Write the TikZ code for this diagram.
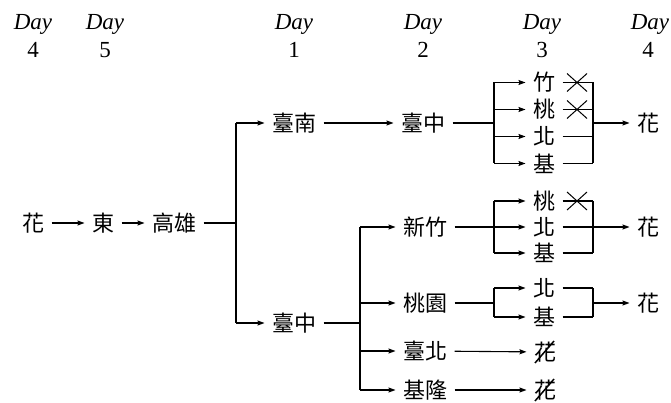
\documentclass[tikz,border=0pt]{standalone}
\usepackage{fontspec}
\setmainfont{Liberation Serif}
\newfontfamily\tnr{Liberation Serif}
\newfontfamily\cjk{Noto Sans CJK TC}
\usetikzlibrary{arrows.meta}
\tikzset{
  every path/.style={line width=1.1pt},
  ct/.style={font=\cjk\fontsize{22}{26}\selectfont, inner sep=0pt, outer xsep=7.5pt, outer ysep=0pt},
  dayl/.style={font=\tnr\fontsize{23}{28}\selectfont\itshape, inner sep=0pt, anchor=base},
  dnum/.style={font=\tnr\fontsize{23}{28}\selectfont, inner sep=0pt, anchor=base},
  arr/.style={-{Stealth[length=7pt,width=5pt,inset=1pt]}},
  xmark/.style={line width=1pt},
  strikeout/.style={draw=black, line width=1.5pt},
}
\begin{document}
\begin{tikzpicture}[x=1pt,y=-1pt]
\useasboundingbox (0,0) rectangle (671,403);
% header
\node[dayl] (d1) at (33,30) {Day};  \node[dnum] (n1) at (33,58) {4};
\node[dayl] (d2) at (105,30) {Day}; \node[dnum] (n2) at (105,58) {5};
\node[dayl] (d3) at (294,30) {Day}; \node[dnum] (n3) at (294,58) {1};
\node[dayl] (d4) at (423,30) {Day}; \node[dnum] (n4) at (423,58) {2};
\node[dayl] (d5) at (542,30) {Day}; \node[dnum] (n5) at (542,58) {3};
\node[dayl] (d6) at (650,30) {Day}; \node[dnum] (n6) at (648,58) {4};
% main row
\node[ct] (hua0) at (33,223) {花};
\node[ct] (dong) at (103,223) {東};
\node[ct] (kx) at (174,223) {高雄};
\draw[arr] (hua0) -- (dong);
\draw[arr] (dong) -- (kx);
\coordinate (j0) at (236,223);
\coordinate (j0t) at (236,123);
\coordinate (j0b) at (236,323);
\draw (kx) -- (j0);
\draw (j0t) -- (j0b);
\node[ct] (tn) at (294,123) {臺南};
\node[ct] (tz2) at (294,323) {臺中};
\draw[arr] (j0t) -- (tn);
\draw[arr] (j0b) -- (tz2);
\node[ct] (tz1) at (423,123) {臺中};
\draw[arr] (tn) -- (tz1);
% lower branch
\coordinate (j1) at (360,323);
\coordinate (j1t) at (360,227);
\coordinate (j1c) at (360,303);
\coordinate (j1d) at (360,351);
\coordinate (j1b) at (360,390);
\draw (tz2) -- (j1);
\draw (j1t) -- (j1b);
\node[ct] (xz) at (425,227) {新竹};
\node[ct] (ty) at (425,303) {桃園};
\node[ct] (tb) at (425,351) {臺北};
\node[ct] (jl) at (425,390) {基隆};
\draw[arr] (j1t) -- (xz);
\draw[arr] (j1c) -- (ty);
\draw[arr] (j1d) -- (tb);
\draw[arr] (j1b) -- (jl);
% bracket A
\coordinate (jA) at (494,123);
\coordinate (jA1) at (494,82.5);
\coordinate (jA2) at (494,109.5);
\coordinate (jA3) at (494,136.5);
\coordinate (jA4) at (494,163.5);
\draw (tz1) -- (jA);
\draw (jA1) -- (jA4);
\node[ct] (a1) at (544,82.5) {竹};
\node[ct] (a2) at (544,109.5) {桃};
\node[ct] (a3) at (544,136.5) {北};
\node[ct] (a4) at (544,163.5) {基};
\draw[arr] (jA1) -- (a1);
\draw[arr] (jA2) -- (a2);
\draw[arr] (jA3) -- (a3);
\draw[arr] (jA4) -- (a4);
\coordinate (rA1) at (593,82.5);
\coordinate (rA2) at (593,109.5);
\coordinate (rA3) at (593,136.5);
\coordinate (rA4) at (593,163.5);
\coordinate (rA) at (593,123);
\draw (a1) -- (rA1);
\draw (a2) -- (rA2);
\draw (a3) -- (rA3);
\draw (a4) -- (rA4);
\draw (rA1) -- (rA4);
\node[ct] (huaA) at (648,123) {花};
\draw[arr] (rA) -- (huaA);
\draw[xmark] (567,73.5) -- (587,91.5) (567,91.5) -- (587,73.5);
\draw[xmark] (567,100.5) -- (587,118.5) (567,118.5) -- (587,100.5);
% bracket B
\coordinate (jB1) at (494,201);
\coordinate (jB3) at (494,253);
\node[ct] (b1) at (544,201) {桃};
\node[ct] (b2) at (544,227) {北};
\node[ct] (b3) at (544,253) {基};
\draw (jB1) -- (jB3);
\draw[arr] (xz) -- (b2);
\draw[arr] (jB1) -- (b1);
\draw[arr] (jB3) -- (b3);
\coordinate (rB1) at (593,201);
\coordinate (rB3) at (593,253);
\draw (b1) -- (rB1);
\draw (b3) -- (rB3);
\draw (rB1) -- (rB3);
\node[ct] (huaB) at (648,227) {花};
\draw[arr] (b2) -- (huaB);
\draw[xmark] (567,192) -- (587,210) (567,210) -- (587,192);
% bracket C
\coordinate (jC) at (494,303);
\coordinate (jC1) at (494,288);
\coordinate (jC2) at (494,317);
\node[ct] (c1) at (544,288) {北};
\node[ct] (c2) at (544,317) {基};
\draw (ty) -- (jC);
\draw (jC1) -- (jC2);
\draw[arr] (jC1) -- (c1);
\draw[arr] (jC2) -- (c2);
\coordinate (rC1) at (593,288);
\coordinate (rC2) at (593,317);
\coordinate (rC) at (593,303);
\draw (c1) -- (rC1);
\draw (c2) -- (rC2);
\draw (rC1) -- (rC2);
\node[ct] (huaC) at (648,303) {花};
\draw[arr] (rC) -- (huaC);
% crossed-out flowers
\node[ct] (xh1) at (545,352) {花};
\node[ct] (xh2) at (545,390) {花};
\draw[arr] (tb) -- (xh1);
\draw[arr] (jl) -- (xh2);
\path[strikeout] (554,341) -- (535,363);
\path[strikeout] (554,379) -- (535,401);
\end{tikzpicture}
\end{document}
